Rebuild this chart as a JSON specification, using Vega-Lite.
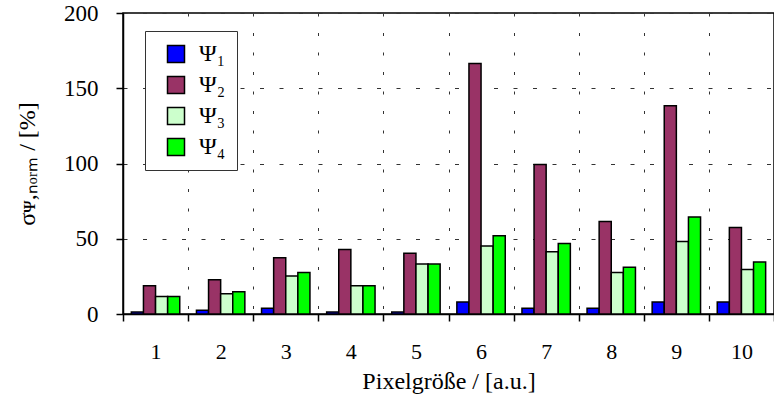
{
  "$schema": "https://vega.github.io/schema/vega-lite/v6.json",
  "autosize": {"type": "none"},
  "padding": {"left": 123, "top": 13, "right": 0, "bottom": 101},
  "width": 651,
  "height": 301,
  "background": "white",
  "config": {
    "font": "Liberation Serif",
    "view": {"stroke": "black", "strokeWidth": 1.5},
    "axis": {"labelFont": "Liberation Serif", "titleFont": "Liberation Serif"}
  },
  "data": {
    "values": [
      {"g": "1", "s": "Ψ₁", "v": 1.3}, {"g": "1", "s": "Ψ₂", "v": 18.8}, {"g": "1", "s": "Ψ₃", "v": 11.7}, {"g": "1", "s": "Ψ₄", "v": 11.7},
      {"g": "2", "s": "Ψ₁", "v": 2.5}, {"g": "2", "s": "Ψ₂", "v": 22.8}, {"g": "2", "s": "Ψ₃", "v": 13.5}, {"g": "2", "s": "Ψ₄", "v": 14.8},
      {"g": "3", "s": "Ψ₁", "v": 3.8}, {"g": "3", "s": "Ψ₂", "v": 37.4}, {"g": "3", "s": "Ψ₃", "v": 25.2}, {"g": "3", "s": "Ψ₄", "v": 27.6},
      {"g": "4", "s": "Ψ₁", "v": 1.3}, {"g": "4", "s": "Ψ₂", "v": 42.9}, {"g": "4", "s": "Ψ₃", "v": 18.8}, {"g": "4", "s": "Ψ₄", "v": 18.8},
      {"g": "5", "s": "Ψ₁", "v": 1.3}, {"g": "5", "s": "Ψ₂", "v": 40.3}, {"g": "5", "s": "Ψ₃", "v": 33.2}, {"g": "5", "s": "Ψ₄", "v": 33.2},
      {"g": "6", "s": "Ψ₁", "v": 8.0}, {"g": "6", "s": "Ψ₂", "v": 166.5}, {"g": "6", "s": "Ψ₃", "v": 45.2}, {"g": "6", "s": "Ψ₄", "v": 52.0},
      {"g": "7", "s": "Ψ₁", "v": 3.8}, {"g": "7", "s": "Ψ₂", "v": 99.4}, {"g": "7", "s": "Ψ₃", "v": 41.4}, {"g": "7", "s": "Ψ₄", "v": 46.9},
      {"g": "8", "s": "Ψ₁", "v": 3.8}, {"g": "8", "s": "Ψ₂", "v": 61.5}, {"g": "8", "s": "Ψ₃", "v": 27.6}, {"g": "8", "s": "Ψ₄", "v": 31.0},
      {"g": "9", "s": "Ψ₁", "v": 8.0}, {"g": "9", "s": "Ψ₂", "v": 138.4}, {"g": "9", "s": "Ψ₃", "v": 48.2}, {"g": "9", "s": "Ψ₄", "v": 64.4},
      {"g": "10", "s": "Ψ₁", "v": 8.0}, {"g": "10", "s": "Ψ₂", "v": 57.5}, {"g": "10", "s": "Ψ₃", "v": 29.6}, {"g": "10", "s": "Ψ₄", "v": 34.5}
    ]
  },
  "mark": {"type": "bar", "stroke": "black", "strokeWidth": 1.5},
  "encoding": {
    "x": {
      "field": "g", "type": "ordinal", "sort": null,
      "scale": {"paddingInner": 0, "paddingOuter": 0},
      "axis": {
        "title": "Pixelgröße / [a.u.]",
        "titleFontSize": 24, "titleFontWeight": "normal", "titleColor": "black", "titlePadding": 7,
        "labelAngle": 0, "labelFontSize": 22, "labelColor": "black", "labelPadding": 20,
        "tickBand": "extent", "tickSize": 7, "tickColor": "black", "tickWidth": 1.5,
        "domainColor": "black", "domainWidth": 1.5,
        "grid": true, "gridDash": [3, 16.5], "gridColor": "#333", "gridWidth": 1
      }
    },
    "xOffset": {
      "field": "s", "type": "nominal",
      "scale": {"paddingInner": 0, "paddingOuter": 0.69}
    },
    "y": {
      "field": "v", "type": "quantitative",
      "scale": {"domain": [0, 200], "nice": false},
      "axis": {
        "title": "σᴪ,ₙₒᵣₘ / [%]",
        "titleFontSize": 24, "titleFontWeight": "normal", "titleColor": "black", "titlePadding": 24,
        "values": [0, 50, 100, 150, 200],
        "labelFontSize": 23, "labelColor": "black", "labelPadding": 18,
        "tickSize": 7, "tickColor": "black", "tickWidth": 1.5,
        "domainColor": "black", "domainWidth": 1.5,
        "grid": true, "gridDash": [4, 15.5], "gridColor": "#333", "gridWidth": 1
      }
    },
    "color": {
      "field": "s", "type": "nominal",
      "scale": {"domain": ["Ψ₁", "Ψ₂", "Ψ₃", "Ψ₄"], "range": ["#0000ff", "#993366", "#ccffcc", "#00ff00"]},
      "legend": {
        "title": null, "orient": "none", "legendX": 22, "legendY": 18,
        "strokeColor": "#333", "fillColor": "white", "padding": 11,
        "symbolType": "square", "symbolSize": 289, "symbolStrokeColor": "black", "symbolStrokeWidth": 1.5,
        "symbolOffset": 8, "labelOffset": 11, "labelFontSize": 24, "labelColor": "black",
        "labelFont": "Liberation Serif", "rowPadding": 7,
        "labelExpr": "datum.label + '\u2003\u2003\u2009'"
      }
    }
  }
}
